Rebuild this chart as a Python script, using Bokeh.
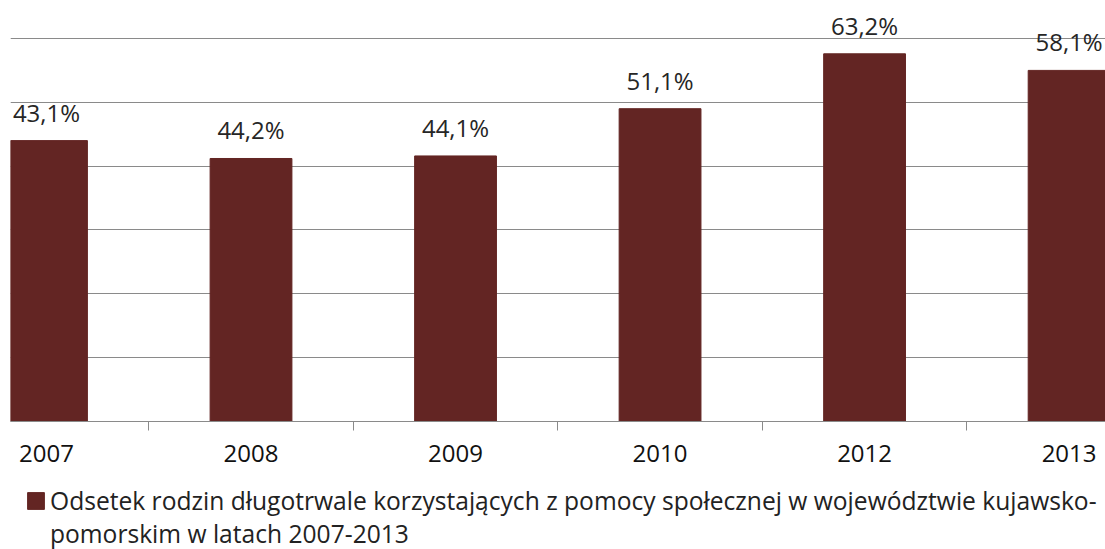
from bokeh.plotting import figure
from bokeh.layouts import column
from bokeh.core.properties import value
from bokeh.models import (Range1d, FixedTicker, Grid, ColumnDataSource, LabelSet,
                          Legend, LegendItem)
from bokeh.embed import file_html
from bokeh.resources import INLINE

years = ["2007", "2008", "2009", "2010", "2012", "2013"]
bar_heights = [44.0, 41.2, 41.6, 49.0, 57.6, 55.0]
label_values = [43.1, 44.2, 44.1, 51.1, 63.2, 58.1]
grid_ticks = [10, 20, 30, 40, 50, 60]
legend_line1 = "Odsetek rodzin długotrwale korzystających z pomocy społecznej w województwie kujawsko-"
legend_line2 = "pomorskim w latach 2007-2013"

FONT = "Open Sans"
BAR = "#632523"
GRID = "#8a8a8a"

idx = list(range(len(years)))
src = ColumnDataSource(dict(
    x=idx,
    top=bar_heights,
    txt=[("%.1f%%" % v).replace(".", ",") for v in label_values],
))

# ---- main chart ----
p = figure(width=1105, height=480, output_backend="svg", toolbar_location=None,
           x_range=Range1d(-0.176, 5.178), y_range=Range1d(0, 65.95),
           y_axis_location=None, min_border_left=10, min_border_right=0,
           min_border_top=0, min_border_bottom=59, outline_line_color=None)
p.xgrid.visible = False
p.add_layout(Grid(dimension=1, ticker=FixedTicker(ticks=grid_ticks),
                  grid_line_color=GRID, grid_line_width=1))

bars = p.vbar(x="x", top="top", width=0.4, source=src, fill_color=BAR, line_color=BAR)

p.add_layout(LabelSet(x="x", y="top", text="txt", source=src, y_offset=19,
                      text_align="center", text_baseline="alphabetic",
                      text_font=value(FONT), text_font_size=value("24px"),
                      text_color="#262626"))

ax = p.xaxis[0]
ax.ticker = FixedTicker(ticks=idx, minor_ticks=[i + 0.5 for i in idx[:-1]])
ax.major_label_overrides = {i: y for i, y in zip(idx, years)}
ax.axis_line_color = GRID
ax.major_tick_out = 0
ax.major_tick_in = 0
ax.minor_tick_out = 9
ax.minor_tick_in = 0
ax.minor_tick_line_color = GRID
ax.major_label_text_font = FONT
ax.major_label_text_font_size = "24px"
ax.major_label_text_color = "#111111"
ax.major_label_standoff = 14

# ---- legend strip (series renderer kept outside its visible range) ----
lg = figure(width=1105, height=69, output_backend="svg", toolbar_location=None,
            x_range=Range1d(-100, -99), y_range=Range1d(0, 1),
            x_axis_location=None, y_axis_location=None,
            min_border=0, outline_line_color=None)
lg.xgrid.visible = False
lg.ygrid.visible = False
sw = lg.vbar(x="x", top="top", width=0.4, source=src, fill_color=BAR, line_color=BAR)
blank = lg.vbar(x="x", top="top", width=0.4, source=src, fill_alpha=0, line_alpha=0)

legend = Legend(items=[LegendItem(label=legend_line1, renderers=[sw]),
                       LegendItem(label=legend_line2, renderers=[blank])],
                location=(15, -1), glyph_width=21, glyph_height=21,
                label_standoff=4, padding=0, margin=0, spacing=-5,
                border_line_color=None, background_fill_alpha=0,
                label_text_font=FONT, label_text_font_size="24.6px",
                label_text_color="#222222")
lg.add_layout(legend)

layout = column(p, lg, spacing=0)
open("out.html", "w").write(file_html(layout, INLINE))
